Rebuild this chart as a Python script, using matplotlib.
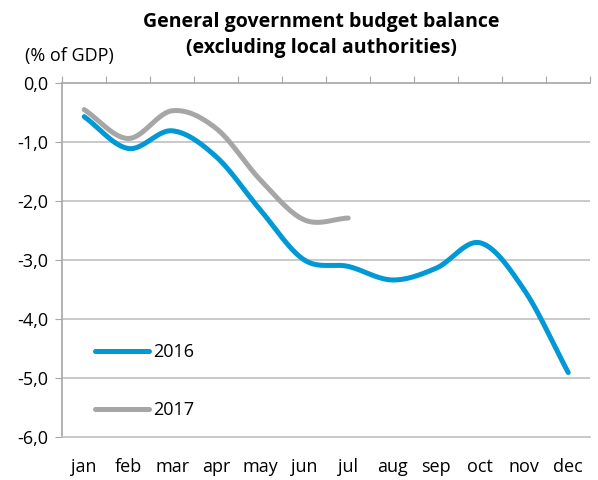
import numpy as np
import matplotlib
matplotlib.use("Agg")
import matplotlib.pyplot as plt

plt.rcParams['font.family'] = ['Open Sans', 'DejaVu Sans']

# Data (% of GDP)
months = ["jan", "feb", "mar", "apr", "may", "jun", "jul", "aug", "sep", "oct", "nov", "dec"]
bal_2016 = [-0.57, -1.11, -0.81, -1.25, -2.15, -3.00, -3.11, -3.34, -3.14, -2.71, -3.51, -4.91]
bal_2017 = [-0.45, -0.94, -0.47, -0.77, -1.64, -2.32, -2.29]
yticks = [0, -1, -2, -3, -4, -5, -6]

blue = "#0099D6"
grey = "#A6A6A6"
axis_grey = "#A6A6A6"
grid_grey = "#C0C0C0"


def smooth(x, y, n=30):
    # Catmull-Rom style curve through the points, like Excel "smoothed line"
    x = np.asarray(x, float)
    y = np.asarray(y, float)
    px = np.concatenate([[2 * x[0] - x[1]], x, [2 * x[-1] - x[-2]]])
    py = np.concatenate([[2 * y[0] - y[1]], y, [2 * y[-1] - y[-2]]])
    xs, ys = [], []
    t = np.linspace(0, 1, n)
    for i in range(1, len(px) - 2):
        for p, out in ((px, xs), (py, ys)):
            p0, p1, p2, p3 = p[i - 1], p[i], p[i + 1], p[i + 2]
            m1 = (p2 - p0) / 2
            m2 = (p3 - p1) / 2
            h00 = 2 * t**3 - 3 * t**2 + 1
            h10 = t**3 - 2 * t**2 + t
            h01 = -2 * t**3 + 3 * t**2
            h11 = t**3 - t**2
            out.extend(h00 * p1 + h10 * m1 + h01 * p2 + h11 * m2)
    return xs, ys


fig = plt.figure(figsize=(5.98, 4.8), dpi=100)
ax = fig.add_axes([0.104, 0.090, 0.883, 0.737])

x16 = np.arange(len(bal_2016)) + 0.5
x17 = np.arange(len(bal_2017)) + 0.5
sx, sy = smooth(x16, bal_2016)
ax.plot(sx, sy, color=blue, lw=3.6, solid_capstyle="round", label="2016", zorder=3)
sx, sy = smooth(x17, bal_2017)
ax.plot(sx, sy, color=grey, lw=3.6, solid_capstyle="round", label="2017", zorder=3)

ax.set_xlim(0, 12)
ax.set_ylim(-6, 0)

# y axis
ax.set_yticks(yticks)
ax.set_yticklabels([f"{v:.1f}".replace(".", ",") for v in yticks], fontsize=13)
ax.tick_params(axis="y", length=5, color=axis_grey, pad=5)
for v in yticks[1:-1]:
    ax.axhline(v, color=grid_grey, lw=1.2, zorder=1)

# x axis: category boundaries ticked on top line, labels at bottom
ax.set_xticks(np.arange(0, 13))
ax.set_xticklabels([])
ax.set_xticks(x16, minor=True)
ax.set_xticklabels(months, minor=True, fontsize=13)
ax.tick_params(axis="x", which="major", top=True, bottom=False, direction="out",
               length=5, color=axis_grey)
ax.tick_params(axis="x", which="minor", length=0, pad=15)

for side in ["left", "top", "bottom"]:
    ax.spines[side].set_color(axis_grey)
    ax.spines[side].set_linewidth(1.2)
ax.spines["bottom"].set_color(grid_grey)
ax.spines["right"].set_visible(False)

leg = ax.legend(loc="lower left", bbox_to_anchor=(0.062, 0.05), frameon=False,
                fontsize=13, handlelength=3.0, handletextpad=0.25,
                labelspacing=2.2, borderaxespad=0.0, borderpad=0.0)

fig.text(0.537, 0.975, "General government budget balance\n(excluding local authorities)",
         ha="center", va="top", fontsize=14, fontweight="bold", linespacing=1.4)
fig.text(0.042, 0.883, "(% of GDP)", ha="left", va="center", fontsize=13)

fig.savefig("out.png", dpi=100)
